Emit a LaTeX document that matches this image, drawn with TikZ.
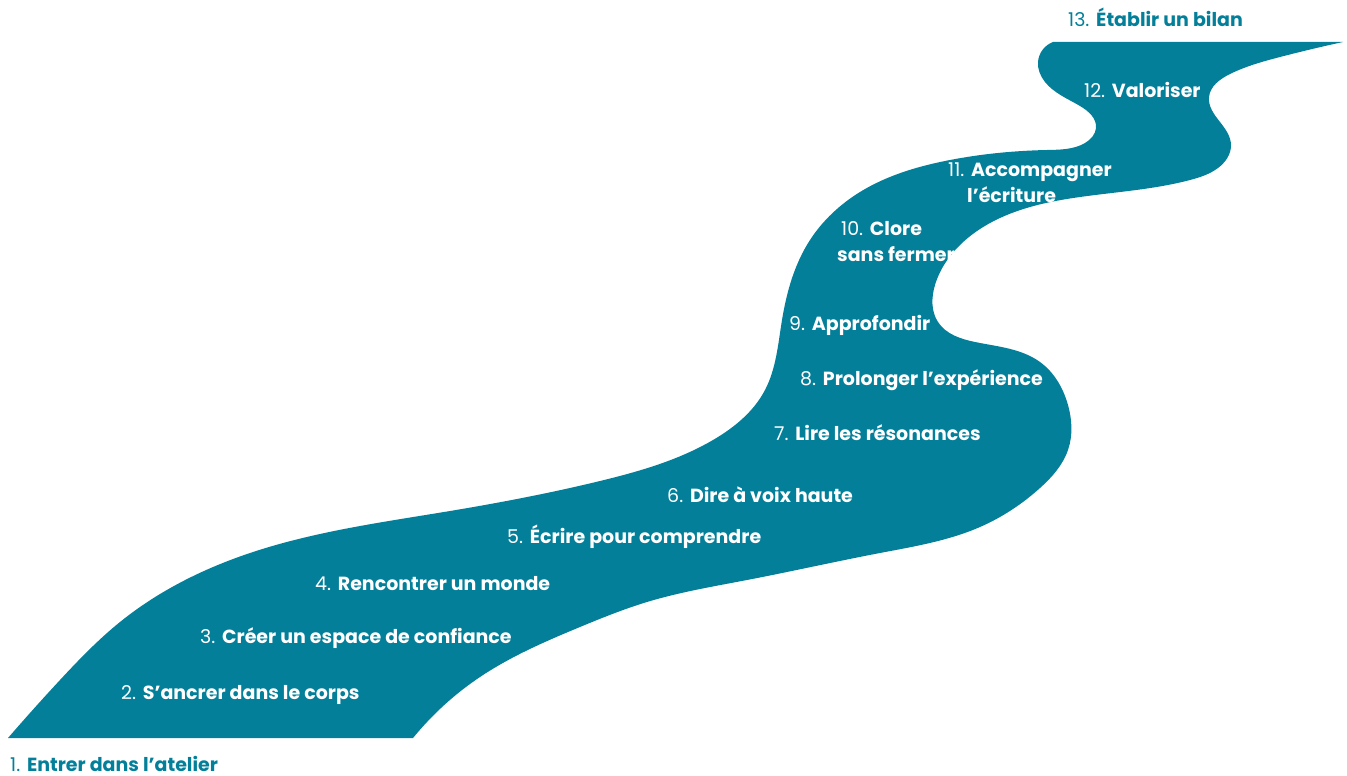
\documentclass[tikz,border=0pt]{standalone}
\usepackage{fontspec}
\usetikzlibrary{hobby}
\setmainfont{Poppins}
\definecolor{riverc}{RGB}{4,127,153}
\tikzset{
  river/.style={fill=riverc},
  lbl/.style={anchor=base west, inner sep=0pt, text=white, font=\fontsize{19}{22}\selectfont},
  outlbl/.style={anchor=base west, inner sep=0pt, text=riverc, font=\fontsize{19}{22}\selectfont}
}
\begin{document}
\begin{tikzpicture}[x=1pt,y=-1pt]
\useasboundingbox (0,0) rectangle (1347,776);
\coordinate (bl) at (8,738);
\coordinate (tl) at (1053,42);
\coordinate (tr) at (1343,42);
\coordinate (br) at (413,738);
\fill[river] (bl) to[curve through={(60,680) (120,622) (250,553) (450,511) (600,481) (713,440) (765,390) (782,320) (810,240) (860,192) (950,160) (1047,150) (1085,143) (1096,128) (1080,106) (1045,82) (1038,62)}] (tl)
  -- (tr) to[curve through={(1280,57) (1230,74) (1209,97) (1220,122) (1231,145) (1218,168) (1190,180) (1080,197) (1000,218) (960,245) (935,285) (938,322) (975,342) (1040,362) (1068,405) (1068,450) (1040,488) (980,527) (880,553) (747,580) (647,602) (580,627) (480,677)}] (br) -- cycle;
\node[outlbl] (s1) at (10,771) {1. \textbf{Entrer dans l’atelier}};
\node[lbl] (s2) at (121,699) {2. \textbf{S’ancrer dans le corps}};
\node[lbl] (s3) at (200,643) {3. \textbf{Créer un espace de confiance}};
\node[lbl] (s4) at (315,590) {4. \textbf{Rencontrer un monde}};
\node[lbl] (s5) at (507,543) {5. \textbf{Écrire pour comprendre}};
\node[lbl] (s6) at (667,502) {6. \textbf{Dire à voix haute}};
\node[lbl] (s7) at (774,440) {7. \textbf{Lire les résonances}};
\node[lbl] (s8) at (800,385) {8. \textbf{Prolonger l’expérience}};
\node[lbl] (s9) at (789,330) {9. \textbf{Approfondir}};
\node[lbl] (s10) at (841,235) {10. \textbf{Clore}};
\node[lbl] (s10b) at (837,261) {\textbf{sans fermer}};
\node[lbl] (s11) at (948,176) {11. \textbf{Accompagner}};
\node[lbl] (s11b) at (967,202) {\textbf{l’écriture}};
\node[lbl] (s12) at (1084,97) {12. \textbf{Valoriser}};
\node[outlbl] (s13) at (1068,27) {13. \textbf{Établir un bilan}};
\end{tikzpicture}
\end{document}
